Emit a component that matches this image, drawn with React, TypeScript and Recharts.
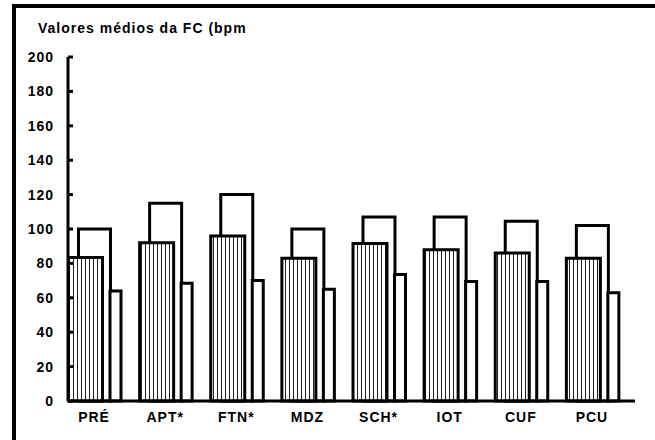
import React from "react";
import { BarChart, Bar, XAxis, YAxis } from "recharts";

const categories = ["PRÉ", "APT*", "FTN*", "MDZ", "SCH*", "IOT", "CUF", "PCU"];
const meanValues = [83.5, 92, 96, 83, 91.5, 88, 86, 83];
const maxValues = [100, 115, 120, 100, 107, 107, 104.5, 102];
const minValues = [64, 68.5, 70, 65, 73.5, 69.5, 69.5, 63];
const yTicks = [0, 20, 40, 60, 80, 100, 120, 140, 160, 180, 200];

const data = categories.map((name, i) => ({
  name,
  mean: meanValues[i],
  max: maxValues[i],
  min: minValues[i],
}));

const font = "'Liberation Sans', Arial, sans-serif";

const YTick = (props: any) => {
  const { x, y, payload } = props;
  return (
    <g>
      <line x1={x + 14} y1={y} x2={x + 19} y2={y} stroke="#000" strokeWidth={3} />
      <text
        x={x}
        y={y}
        dy="0.355em"
        textAnchor="end"
        fontFamily={font}
        fontWeight="bold"
        fontSize={14}
        letterSpacing={1}
        fill="#000"
      >
        {payload.value}
      </text>
    </g>
  );
};

const App = () => {
  return (
    <div style={{ position: "absolute", left: 0, top: 0, width: 655, height: 440, background: "#fff" }}>
      {/* frame: top and left edges only */}
      <div
        style={{
          position: "absolute",
          left: 12,
          top: 4,
          width: 643,
          height: 436,
          borderTop: "4px solid #000",
          borderLeft: "4px solid #000",
          boxSizing: "border-box",
        }}
      />
      <div
        style={{
          position: "absolute",
          left: 38,
          top: 21,
          fontFamily: font,
          fontWeight: "bold",
          fontSize: 14,
          letterSpacing: 1,
          lineHeight: "14px",
          whiteSpace: "nowrap",
        }}
      >
        Valores médios da FC (bpm
      </div>
      <div style={{ position: "absolute", left: 0, top: 0 }}>
        <BarChart width={655} height={440} data={data} margin={{ top: 57, right: 20, bottom: 9, left: 18 }}>
          <defs>
            <pattern id="vstripes" patternUnits="userSpaceOnUse" width={4} height={4}>
              <rect width={4} height={4} fill="#fff" />
              <line x1={1.5} y1={0} x2={1.5} y2={4} stroke="#222" strokeWidth={1} />
            </pattern>
          </defs>
          <XAxis
            xAxisId="max"
            dataKey="name"
            padding={{ left: -9.5, right: 7.5 }}
            axisLine={{ stroke: "#000", strokeWidth: 3 }}
            tickLine={false}
            tickSize={0}
            tickMargin={11}
            height={30}
            interval={0}
            tick={{ fontFamily: font, fontWeight: "bold", fontSize: 14, fill: "#000", letterSpacing: 1 }}
          />
          <XAxis xAxisId="mean" dataKey="name" hide padding={{ left: -18.5, right: 16.5 }} />
          <XAxis xAxisId="min" dataKey="name" hide padding={{ left: 12, right: -14 }} />
          <YAxis
            domain={[0, 200]}
            ticks={yTicks}
            width={50}
            axisLine={{ stroke: "#000", strokeWidth: 3 }}
            tickLine={false}
            tickSize={0}
            tickMargin={14}
            tick={<YTick />}
          />
          <Bar xAxisId="max" dataKey="max" barSize={32} fill="#fff" stroke="#000" strokeWidth={3} isAnimationActive={false} />
          <Bar xAxisId="mean" dataKey="mean" barSize={34} fill="url(#vstripes)" stroke="#000" strokeWidth={3} isAnimationActive={false} />
          <Bar xAxisId="min" dataKey="min" barSize={11} fill="#fff" stroke="#000" strokeWidth={3} isAnimationActive={false} />
        </BarChart>
      </div>
    </div>
  );
};

export default App;
